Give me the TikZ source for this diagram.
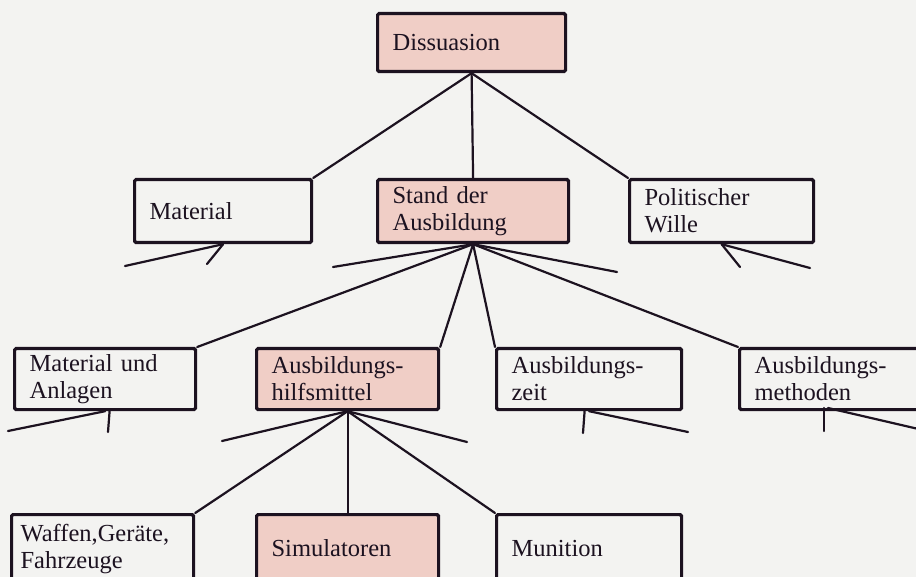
\documentclass[tikz,border=0pt]{standalone}
\usepackage{fontspec}
\setmainfont{Liberation Serif}
\definecolor{ink}{HTML}{1C1220}
\definecolor{rose}{HTML}{F0CEC6}
\definecolor{paper}{HTML}{F3F3F1}
\begin{document}
\begin{tikzpicture}[x=1pt,y=-1pt,
  bx/.style={draw=ink, line width=3.2pt, rounded corners=1.5pt, inner xsep=15pt, inner ysep=2pt,
    align=left, anchor=north west, font=\fontsize{24.5}{27}\selectfont, text=ink},
  hl/.style={bx, fill=rose},
  wt/.style={bx, fill=paper},
  ln/.style={draw=ink, line width=2.2pt, line cap=round}]
\useasboundingbox (0,0) rectangle (916,577);
\fill[paper] (0,0) rectangle (916,577);
\clip (0,0) rectangle (916,577);

% level 0
\node[hl, text width=158pt, minimum height=58pt] (D) at (376,12) {Dissuasion};
% level 1
\node[wt, text width=147pt, minimum height=63pt] (Mat) at (133,178) {Material};
\node[hl, text width=161pt, minimum height=63pt] (SA) at (376,178) {Stand der\\Ausbildung};
\node[wt, text width=154pt, minimum height=63pt] (PW) at (628,178) {Politischer\\Wille};
% level 2
\node[wt, text width=151pt, minimum height=61pt] (MuA) at (13,347) {Material und\\Anlagen};
\node[hl, text width=152pt, minimum height=61pt] (AH) at (255,347) {Ausbildungs-\\hilfsmittel};
\node[wt, text width=155pt, minimum height=61pt] (AZ) at (495,347) {Ausbildungs-\\zeit};
\node[wt, text width=190pt, minimum height=61pt] (AM) at (738,347) {Ausbildungs-\\methoden};
% level 3
\node[wt, inner xsep=9pt, text width=164pt, minimum height=68pt] (WGF) at (10,513) {Waffen,Geräte,\\Fahrzeuge};
\node[hl, text width=152pt, minimum height=68pt] (SIM) at (255,513) {Simulatoren};
\node[wt, text width=155pt, minimum height=68pt] (MUN) at (495,513) {Munition};

% free ends
\coordinate (m1) at (125,266);
\coordinate (m2) at (207,264);
\coordinate (s1) at (333,267);
\coordinate (s2) at (617,272);
\coordinate (p1) at (740,267);
\coordinate (p2) at (810,268);
\coordinate (a1) at (8,431);
\coordinate (a2) at (108,432);
\coordinate (h1) at (222,441);
\coordinate (h2) at (467,442);
\coordinate (z1) at (583,433);
\coordinate (z2) at (688,432);
\coordinate (amc) at (826,408);
\coordinate (t1) at (824,431);
\coordinate (t2) at (940,434);

% connectors
\draw[ln] (D.south) -- (Mat.north east);
\draw[ln] (D.south) -- (SA.north);
\draw[ln] (D.south) -- (PW.north west);

\draw[ln] (Mat.south) -- (m1);
\draw[ln] (Mat.south) -- (m2);

\draw[ln] (SA.south) -- (s1);
\draw[ln] (SA.south) -- (MuA.north east);
\draw[ln] (SA.south) -- (AH.north east);
\draw[ln] (SA.south) -- (AZ.north west);
\draw[ln] (SA.south) -- (AM.north west);
\draw[ln] (SA.south) -- (s2);

\draw[ln] (PW.south) -- (p1);
\draw[ln] (PW.south) -- (p2);

\draw[ln] (MuA.south) -- (a1);
\draw[ln] ([xshift=4.5pt]MuA.south) -- (a2);

\draw[ln] (AH.south) -- (h1);
\draw[ln] (AH.south) -- (WGF.north east);
\draw[ln] (AH.south) -- (SIM.north);
\draw[ln] (AH.south) -- (MUN.north west);
\draw[ln] (AH.south) -- (h2);

\draw[ln] ([xshift=-4.5pt]AZ.south) -- (z1);
\draw[ln] (AZ.south) -- (z2);

\draw[ln] ([xshift=-2pt]amc) -- (t1);
\draw[ln] ([xshift=2pt]amc) -- (t2);
\end{tikzpicture}
\end{document}
